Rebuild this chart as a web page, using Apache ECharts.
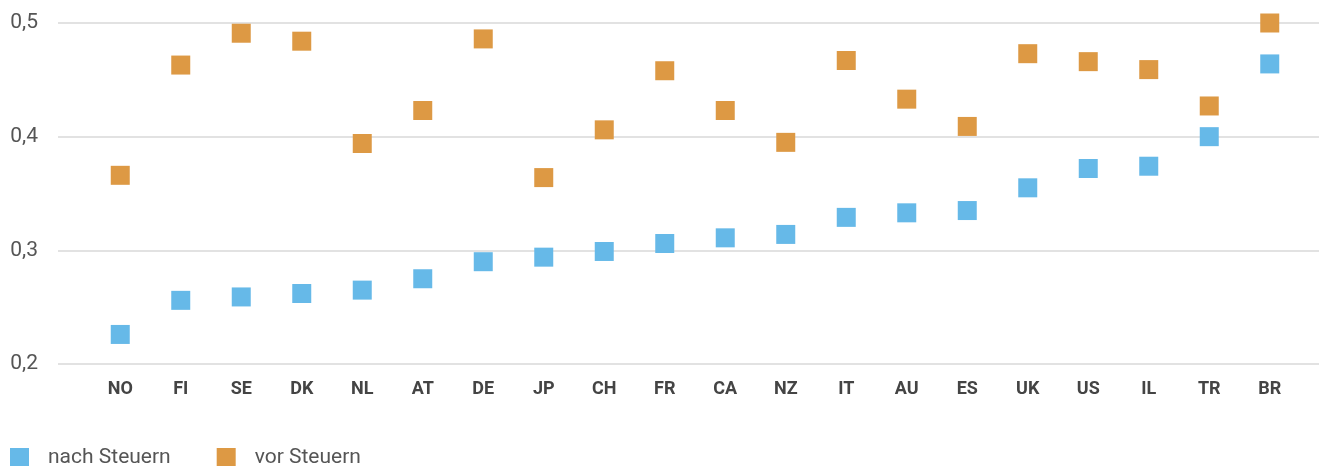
<!DOCTYPE html>
<html>
<head>
<meta charset="utf-8">
<script src="https://cdn.jsdelivr.net/npm/echarts@6/dist/echarts.min.js"></script>
<style>
  html, body { margin: 0; padding: 0; background: #fff; }
  #chart { width: 1319px; height: 466px; }
</style>
</head>
<body>
<div id="chart"></div>
<script>
// Länder und Werte (Gini-Koeffizient)
var countries = ['NO', 'FI', 'SE', 'DK', 'NL', 'AT', 'DE', 'JP', 'CH', 'FR',
                 'CA', 'NZ', 'IT', 'AU', 'ES', 'UK', 'US', 'IL', 'TR', 'BR'];
var nachSteuern = [0.226, 0.256, 0.259, 0.262, 0.265, 0.275, 0.290, 0.294, 0.299, 0.306,
                   0.311, 0.314, 0.329, 0.333, 0.335, 0.355, 0.372, 0.374, 0.400, 0.464];
var vorSteuern = [0.366, 0.463, 0.491, 0.484, 0.394, 0.423, 0.486, 0.364, 0.406, 0.458,
                  0.423, 0.395, 0.467, 0.433, 0.409, 0.473, 0.466, 0.459, 0.427, 0.500];
var yTicks = [0.2, 0.3, 0.4, 0.5];

var BLUE = '#66b9e8';
var ORANGE = '#dd9944';
var FONT = 'Roboto, "DejaVu Sans", sans-serif';

var chart = echarts.init(document.getElementById('chart'));

chart.setOption({
  animation: false,
  textStyle: { fontFamily: FONT },
  grid: [
    // Hintergrund-Gitter mit Achsenbeschriftung
    { left: 58, right: 0, top: 23, bottom: 102, containLabel: false },
    // Datenbereich
    { left: 90, right: 19, top: 23, bottom: 102, containLabel: false }
  ],
  legend: {
    left: 5,
    top: 447,
    padding: [0, 5, 0, 5],
    itemWidth: 19,
    itemHeight: 19,
    itemGap: 46,
    icon: 'rect',
    textStyle: { fontFamily: FONT, fontSize: 21, color: '#555', padding: [5, 0, 0, 14] },
    data: ['nach Steuern', 'vor Steuern']
  },
  xAxis: [
    { gridIndex: 0, type: 'value', show: false, min: 0, max: 1 },
    {
      gridIndex: 1,
      type: 'category',
      data: countries,
      boundaryGap: true,
      axisLine: { show: false },
      axisTick: { show: false },
      axisLabel: {
        margin: 16,
        fontFamily: FONT,
        fontSize: 18,
        fontWeight: 'bold',
        color: '#444'
      }
    }
  ],
  yAxis: [
    {
      gridIndex: 0,
      type: 'value',
      min: yTicks[0],
      max: yTicks[yTicks.length - 1],
      interval: 0.1,
      axisLine: { show: false },
      axisTick: { show: false },
      splitLine: { lineStyle: { color: '#d9d9d9', width: 1.5 } },
      axisLabel: {
        margin: 20,
        fontFamily: FONT,
        fontSize: 21,
        color: '#555',
        formatter: function (v) { return v.toFixed(1).replace('.', ','); }
      }
    },
    {
      gridIndex: 1,
      type: 'value',
      min: yTicks[0],
      max: yTicks[yTicks.length - 1],
      interval: 0.1,
      show: false,
      splitLine: { show: false }
    }
  ],
  series: [
    {
      name: 'nach Steuern',
      type: 'scatter',
      xAxisIndex: 1,
      yAxisIndex: 1,
      symbol: 'rect',
      symbolSize: 19,
      itemStyle: { color: BLUE, opacity: 1 },
      data: nachSteuern
    },
    {
      name: 'vor Steuern',
      type: 'scatter',
      xAxisIndex: 1,
      yAxisIndex: 1,
      symbol: 'rect',
      symbolSize: 19,
      itemStyle: { color: ORANGE, opacity: 1 },
      data: vorSteuern
    }
  ]
});
</script>
</body>
</html>
